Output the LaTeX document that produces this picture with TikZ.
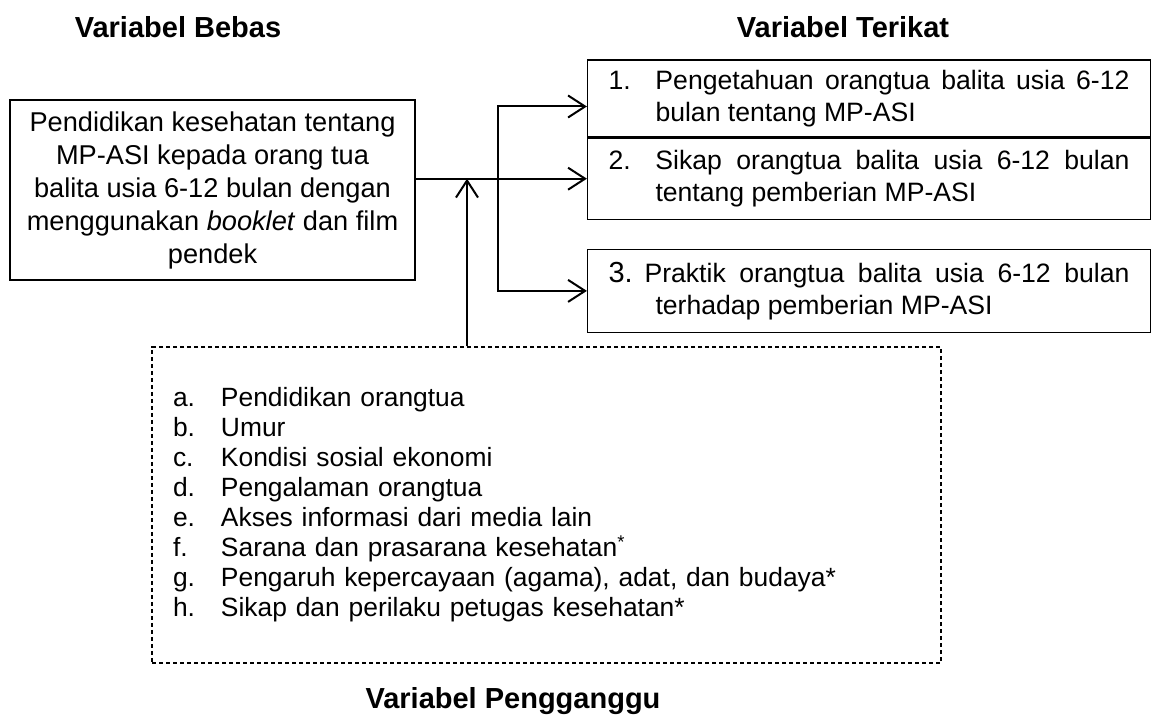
\documentclass[tikz,border=0pt]{standalone}
\usepackage{fontspec}
\setmainfont{Liberation Sans}
\usetikzlibrary{positioning,arrows.meta,calc}

\begin{document}
\begin{tikzpicture}[
    x=0.5pt, y=-0.5pt,
    >={Straight Barb[length=8.5pt,width=11pt]},
    heading/.style={font=\fontsize{14.5}{17}\selectfont\bfseries},
    varbox/.style={draw, line width=0.6pt, minimum width=202.5pt, minimum height=90pt, align=center, font=\fontsize{13.6}{16.5}\selectfont},
    outcome/.style={draw, line width=0.6pt, text width=260.5pt, inner xsep=10.5pt, inner ysep=2pt, align=justify, font=\fontsize{13.3}{16}\selectfont},
    confound/.style={draw, line width=0.6pt, dash pattern=on 2.2pt off 1.3pt, text width=373.5pt, inner xsep=10.5pt, minimum height=158pt, align=left, font=\fontsize{13.2}{15}\selectfont},
    arrow/.style={->, line width=1pt},
    node distance=14.5pt,
  ]
  \useasboundingbox (0,0) rectangle (1155,715);

  % Judul
  \node[heading] (judulbebas) at (178,27) {Variabel Bebas};
  \node[heading] (judulterikat) at (843,27) {Variabel Terikat};
  \node[heading] (judulganggu) at (513,701) {Variabel Pengganggu};

  % Variabel bebas
  \node[varbox] (bebas) at (212.5,190) {%
    Pendidikan kesehatan tentang\\
    MP-ASI kepada orang tua\\
    balita usia 6-12 bulan dengan\\
    menggunakan \textit{booklet} dan film\\
    pendek};

  % Variabel terikat
  \node[outcome, minimum height=38.5pt] (tahu) at (869,98.5) {%
    \noindent\hangindent=23.5pt\hangafter=1\makebox[23.5pt][l]{1.}Pengetahuan orangtua balita usia 6-12\linebreak
    bulan tentang MP-ASI\par};
  \node[outcome, minimum height=40.5pt, below=0pt of tahu] (sikap) {%
    \noindent\hangindent=23.5pt\hangafter=1\makebox[23.5pt][l]{2.}Sikap orangtua balita usia 6-12 bulan\linebreak
    tentang pemberian MP-ASI\par};
  \node[outcome, minimum height=41.5pt, below=of sikap] (praktik) {%
    \noindent\hangindent=23.5pt\hangafter=1\makebox[18pt][l]{\fontsize{14.5}{16}\selectfont 3.}Praktik orangtua balita usia 6-12 bulan\linebreak
    terhadap pemberian MP-ASI\par};

  % Variabel pengganggu
  \node[confound] (ganggu) at (546.5,505) {%
    \makebox[24pt][l]{a.}Pendidikan orangtua\\
    \makebox[24pt][l]{b.}Umur\\
    \makebox[24pt][l]{c.}Kondisi sosial ekonomi\\
    \makebox[24pt][l]{d.}Pengalaman orangtua\\
    \makebox[24pt][l]{e.}Akses informasi dari media lain\\
    \makebox[24pt][l]{f.}Sarana dan prasarana kesehatan\textsuperscript{*}\\
    \makebox[24pt][l]{g.}Pengaruh kepercayaan (agama), adat, dan budaya*\\
    \makebox[24pt][l]{h.}Sikap dan perilaku petugas kesehatan*};

  % Panah
  \coordinate (cabang) at (498,0);
  \coordinate (temu) at (467,0);
  \coordinate (tahu1) at ([yshift=-4pt]tahu.west);
  \draw[arrow] (bebas.east |- sikap.west) -- (sikap.west);
  \draw[<->, line width=1pt] (tahu1) -| (cabang |- praktik.west) -- (praktik.west);
  \draw[arrow] (ganggu.north -| temu) -- (temu |- sikap.west);
\end{tikzpicture}
\end{document}
